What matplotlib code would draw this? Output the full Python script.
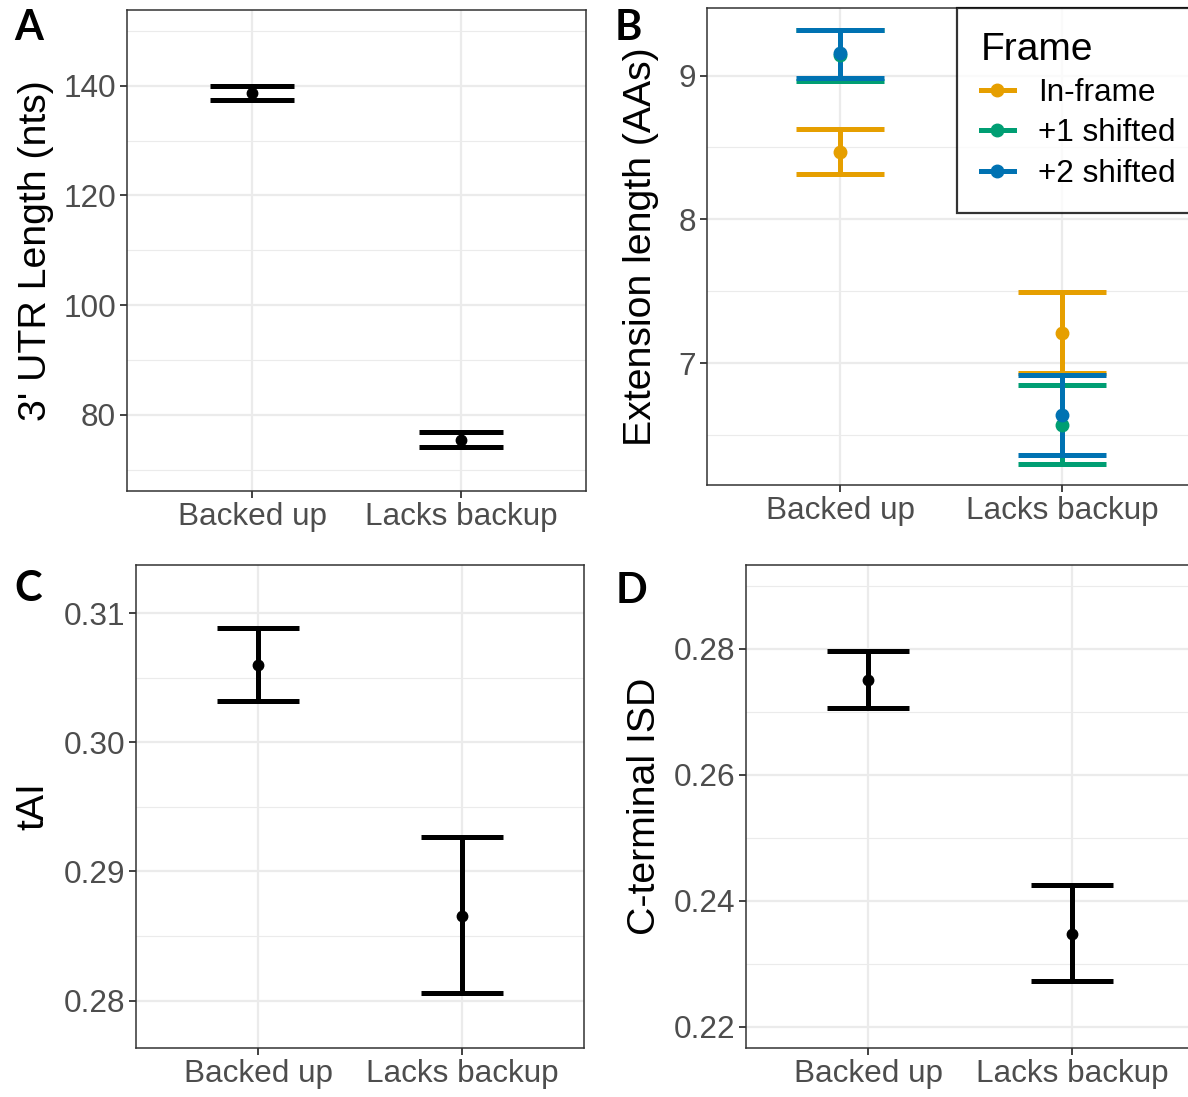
import matplotlib
matplotlib.use("Agg")
import matplotlib.pyplot as plt
from matplotlib.lines import Line2D
from matplotlib.ticker import MultipleLocator, FormatStrFormatter

plt.rcParams['font.family'] = ['Liberation Sans', 'DejaVu Sans']

groups = ["Backed up", "Lacks backup"]

# A: 3' UTR length
utr_mean = [138.6, 75.4]
utr_low = [137.4, 74.2]
utr_high = [140.0, 76.8]

# B: extension length per frame
frames = ["In-frame", "+1 shifted", "+2 shifted"]
frame_colors = ["#E69F00", "#009E73", "#0072B2"]
ext_mean = [[8.466, 7.209], [9.14, 6.571], [9.158, 6.64]]
ext_low = [[8.316, 6.935], [8.965, 6.30], [8.98, 6.36]]
ext_high = [[8.626, 7.492], [9.315, 6.849], [9.32, 6.919]]

# C: tAI
tai_mean = [0.3060, 0.28655]
tai_low = [0.30318, 0.28059]
tai_high = [0.30887, 0.29270]

# D: C-terminal ISD
isd_mean = [0.27507, 0.2348]
isd_low = [0.2707, 0.22733]
isd_high = [0.27961, 0.24244]

W, H = 1188, 1097
fig = plt.figure(figsize=(W / 100, H / 100), dpi=100)
TITLE_SIZE = 28.3


def rect(l, r, t, b):
    return [l / W, 1 - b / H, (r - l) / W, (b - t) / H]


def style(ax, ylim, major, minor, fmt=None):
    ax.set_xlim(0.4, 2.6)
    ax.set_ylim(*ylim)
    ax.set_xticks([1, 2])
    ax.set_xticklabels(groups)
    ax.yaxis.set_major_locator(MultipleLocator(major))
    ax.yaxis.set_minor_locator(MultipleLocator(minor))
    if fmt:
        ax.yaxis.set_major_formatter(FormatStrFormatter(fmt))
    ax.grid(True, which='major', color='#EBEBEB', lw=1.6, zorder=0)
    ax.grid(True, which='minor', axis='y', color='#EBEBEB', lw=0.8, zorder=0)
    ax.set_axisbelow(True)
    ax.tick_params(which='major', length=5, width=1.3, color='#333333',
                   labelsize=22.7, labelcolor='#4D4D4D', pad=3)
    ax.tick_params(which='minor', length=0)
    for s in ax.spines.values():
        s.set_color('#333333')
        s.set_linewidth(1.1)


def draw_err(ax, means, lows, highs, color, ms=7.5):
    x = [1, 2]
    ax.vlines(x, lows, highs, color=color, lw=3.6, zorder=3)
    ax.hlines(lows, [v - 0.2 for v in x], [v + 0.2 for v in x], color=color, lw=3.6, zorder=3)
    ax.hlines(highs, [v - 0.2 for v in x], [v + 0.2 for v in x], color=color, lw=3.6, zorder=3)
    ax.plot(x, means, 'o', color=color, ms=ms, zorder=4)


def ylabel(ax, text, x_px, left, right):
    ax.set_ylabel(text, fontsize=TITLE_SIZE)
    ax.yaxis.set_label_coords((x_px - left) / (right - left), 0.5)


# A
axA = fig.add_axes(rect(127, 586, 10, 491))
style(axA, (66.1, 153.8), 20, 10)
draw_err(axA, utr_mean, utr_low, utr_high, 'black')
ylabel(axA, "3' UTR Length (nts)", 54, 127, 586)

# B
axB = fig.add_axes(rect(707, 1195, 8, 485))
style(axB, (6.153, 9.47), 1, 0.5)
for i in range(3):
    draw_err(axB, ext_mean[i], ext_low[i], ext_high[i], frame_colors[i], ms=9)
ylabel(axB, "Extension length (AAs)", 659, 707, 1195)
handles = [Line2D([0], [0], color=c, lw=3.6, marker='o', ms=9) for c in frame_colors]
leg = fig.legend(handles, frames, title="Frame", loc='upper left',
                 bbox_to_anchor=(957 / W, 1 - 8 / H), frameon=True, fancybox=False,
                 fontsize=22.7, title_fontsize=28, handlelength=1.05,
                 handletextpad=0.77, labelspacing=0.33, borderpad=0.75,
                 borderaxespad=0)
leg._legend_box.align = "left"
leg.get_frame().set_edgecolor('black')
leg.get_frame().set_linewidth(1.6)

# C
axC = fig.add_axes(rect(136, 584, 565, 1048))
style(axC, (0.27633, 0.31372), 0.01, 0.005, fmt='%.2f')
draw_err(axC, tai_mean, tai_low, tai_high, 'black')
ylabel(axC, "tAI", 51, 136, 584)

# D
axD = fig.add_axes(rect(746, 1194, 565, 1048))
style(axD, (0.21662, 0.29334), 0.02, 0.01, fmt='%.2f')
draw_err(axD, isd_mean, isd_low, isd_high, 'black')
ylabel(axD, "C-terminal ISD", 663, 746, 1194)

for lab, x, y in [("A", 14, 9), ("B", 615, 9), ("C", 14, 570), ("D", 616, 572)]:
    fig.text(x / W, 1 - y / H, lab, fontsize=30, fontweight='bold',
             family=['Lato', 'DejaVu Sans'], ha='left', va='top')

fig.savefig("out.png", dpi=100, facecolor='white')
